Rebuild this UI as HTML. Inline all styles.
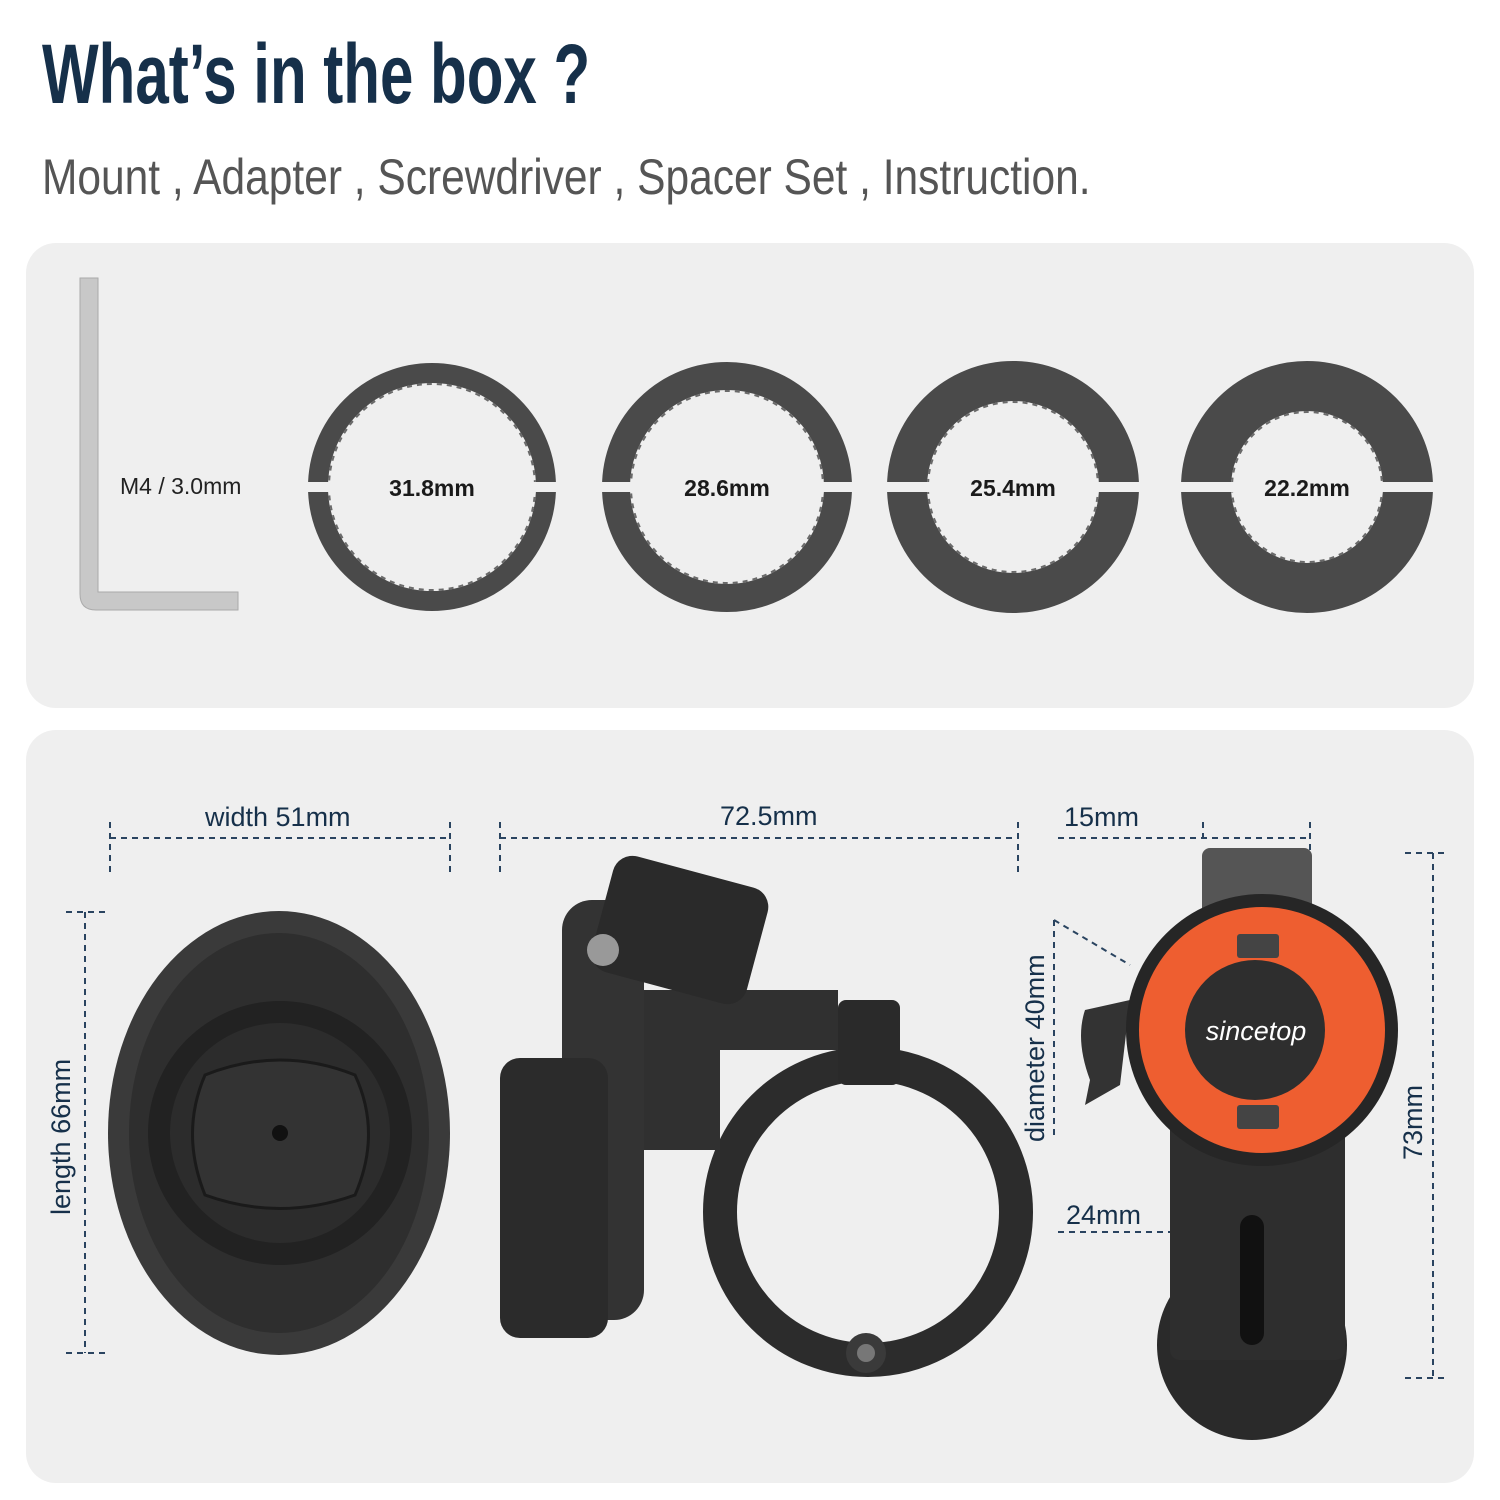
<!DOCTYPE html>
<html><head><meta charset="utf-8"><style>
body{margin:0;width:1500px;height:1500px;background:#fff;overflow:hidden;font-family:"Liberation Sans",sans-serif}
svg{position:absolute;left:0;top:0}
</style></head><body>
<svg width="1500" height="1500" viewBox="0 0 1500 1500">
<text x="42" y="103" font-family="Liberation Sans" font-weight="bold" font-size="84" fill="#16304a" transform="translate(42 0) scale(0.715 1) translate(-42 0)">What’s in the box ?</text>
<text x="42" y="194" font-family="Liberation Sans" font-size="50" fill="#555" transform="translate(42 0) scale(0.85 1) translate(-42 0)">Mount , Adapter , Screwdriver , Spacer Set , Instruction.</text>
<rect x="26" y="243" width="1448" height="465" rx="30" fill="#efefef"/>
<rect x="26" y="730" width="1448" height="753" rx="30" fill="#efefef"/>
<path d="M80 278 H98 V592 H238 V610 H96 Q80 610 80 594 Z" fill="#c8c8c8" stroke="#aaa"/>
<text x="120" y="494" font-size="23" fill="#222">M4 / 3.0mm</text>
<g fill="none" stroke="#4a4a4a">
<circle cx="432" cy="487" r="114" stroke-width="20"/>
<circle cx="727" cy="487" r="111" stroke-width="28"/>
<circle cx="1013" cy="487" r="106" stroke-width="40"/>
<circle cx="1307" cy="487" r="101" stroke-width="50"/>
</g>
<g fill="none" stroke="#6a6a6a" stroke-width="2" stroke-dasharray="5 5">
<circle cx="432" cy="487" r="103"/><circle cx="727" cy="487" r="96"/><circle cx="1013" cy="487" r="85"/><circle cx="1307" cy="487" r="75"/>
</g>
<g fill="#efefef"><rect x="300" y="482" width="270" height="10"/><rect x="595" y="482" width="270" height="10"/><rect x="880" y="482" width="270" height="10"/><rect x="1175" y="482" width="270" height="10"/></g>
<g font-size="23" font-weight="bold" fill="#1a1a1a" text-anchor="middle">
<text x="432" y="496">31.8mm</text><text x="727" y="496">28.6mm</text><text x="1013" y="496">25.4mm</text><text x="1307" y="496">22.2mm</text>
</g>
<g stroke="#2a4460" stroke-width="2" stroke-dasharray="6 5" fill="none">
<path d="M110 838 H450 M110 822 V872 M450 822 V872"/>
<path d="M500 838 H1018 M500 822 V872 M1018 822 V872"/>
<path d="M1058 838 H1310 M1203 822 V840 M1310 822 V850"/>
<path d="M66 912 H110 M85 912 V1353 M66 1353 H110"/>
<path d="M1405 853 H1448 M1433 853 V1378 M1405 1378 H1448"/>
<path d="M1058 1232 H1345"/>
<path d="M1054 920 V1140 M1054 920 L1130 965"/>
</g>
<g font-size="27" fill="#16304a">
<text x="205" y="826">width 51mm</text>
<text x="720" y="825">72.5mm</text>
<text x="1064" y="826">15mm</text>
<text x="1066" y="1224">24mm</text>
<text transform="translate(70 1215) rotate(-90)">length 66mm</text>
<text transform="translate(1422 1160) rotate(-90)">73mm</text>
<text transform="translate(1044 1142) rotate(-90)">diameter 40mm</text>
</g>
<ellipse cx="279" cy="1133" rx="171" ry="222" fill="#3a3a3a"/>
<ellipse cx="279" cy="1133" rx="150" ry="200" fill="#2e2e2e"/>
<circle cx="280" cy="1133" r="132" fill="#222"/>
<circle cx="280" cy="1133" r="110" fill="#2c2c2c"/>
<path d="M205 1075 Q280 1045 355 1075 Q382 1133 355 1195 Q280 1222 205 1195 Q180 1133 205 1075Z" fill="#333" stroke="#1a1a1a" stroke-width="3"/>
<circle cx="280" cy="1133" r="8" fill="#111"/>
<circle cx="868" cy="1212" r="148" fill="none" stroke="#2c2c2c" stroke-width="34"/>
<rect x="838" y="1000" width="62" height="85" rx="8" fill="#2a2a2a"/>
<path d="M640 990 H838 V1050 H720 V1150 H640Z" fill="#303030"/>
<rect x="562" y="900" width="82" height="420" rx="30" fill="#333"/>
<rect x="600" y="870" width="160" height="120" rx="20" fill="#2a2a2a" transform="rotate(15 680 930)"/>
<circle cx="603" cy="950" r="16" fill="#999"/>
<rect x="500" y="1058" width="108" height="280" rx="20" fill="#2b2b2b"/>
<circle cx="866" cy="1353" r="20" fill="#3a3a3a"/>
<circle cx="866" cy="1353" r="9" fill="#777"/>
<rect x="1202" y="848" width="110" height="70" rx="8" fill="#555"/>
<circle cx="1252" cy="1345" r="95" fill="#2a2a2a"/>
<rect x="1170" y="1100" width="175" height="260" rx="10" fill="#2e2e2e"/>
<rect x="1240" y="1215" width="24" height="130" rx="12" fill="#111"/>
<path d="M1130 1000 L1085 1010 Q1075 1040 1090 1080 L1085 1105 L1120 1085Z" fill="#333"/>
<circle cx="1262" cy="1030" r="136" fill="#262626"/>
<circle cx="1262" cy="1030" r="123" fill="#ee5e30"/>
<circle cx="1255" cy="1030" r="70" fill="#2e2e2e"/>
<rect x="1237" y="934" width="42" height="24" rx="3" fill="#444"/>
<rect x="1237" y="1105" width="42" height="24" rx="3" fill="#444"/>
<text x="1256" y="1040" font-size="27" font-style="italic" fill="#fff" text-anchor="middle">sincetop</text>
</svg>
</body></html>
